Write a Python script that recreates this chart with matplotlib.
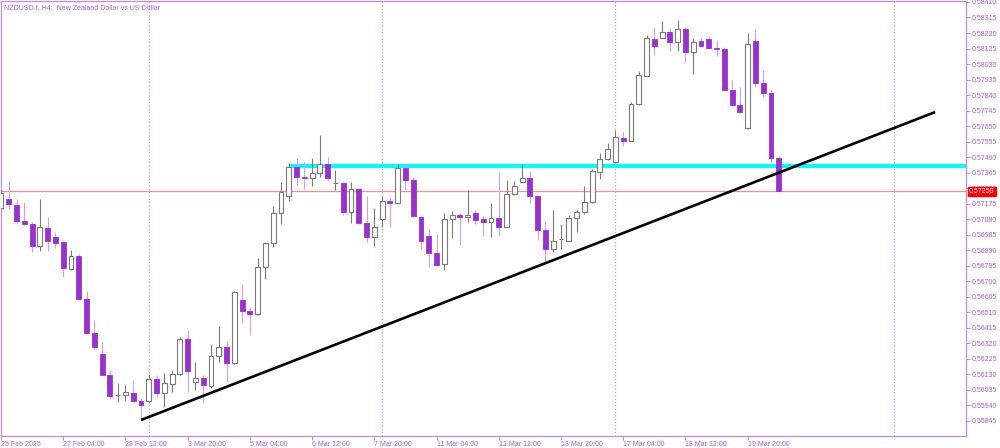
import numpy as np
import matplotlib
matplotlib.use("Agg")
import matplotlib.pyplot as plt
from matplotlib.transforms import blended_transform_factory

plt.rcParams["font.family"] = ["Liberation Sans", "DejaVu Sans"]

chart_title = "NZDUSD.f, H4:  New Zealand Dollar vs US Dollar"

# H4 candles, first bar = 25 Feb 2025 20:00
opens = [0.57149, 0.57202, 0.57169, 0.57069, 0.57051, 0.56916, 0.57028, 0.56970, 0.56939, 0.56777,
         0.56853, 0.56590, 0.56386, 0.56255, 0.56127, 0.56001, 0.56004, 0.56018, 0.55969, 0.55969,
         0.56100, 0.56018, 0.56072, 0.56133, 0.56345, 0.56082, 0.56110, 0.56061, 0.56243, 0.56300,
         0.56202, 0.56586, 0.56518, 0.56498, 0.56790, 0.56933, 0.57120, 0.57222, 0.57402, 0.57340,
         0.57331, 0.57365, 0.57418, 0.57300, 0.57300, 0.57123, 0.57263, 0.57059, 0.56970, 0.57080,
         0.57194, 0.57181, 0.57392, 0.57320, 0.57096, 0.56977, 0.56872, 0.56804, 0.57080, 0.57106,
         0.57092, 0.57120, 0.57080, 0.57061, 0.57088, 0.57034, 0.57235, 0.57310, 0.57334, 0.57222,
         0.57014, 0.56896, 0.56957, 0.56949, 0.57086, 0.57126, 0.57184, 0.57369, 0.57449, 0.57429,
         0.57580, 0.57561, 0.57784, 0.57957, 0.58183, 0.58191, 0.58224, 0.58167, 0.58243, 0.58106,
         0.58171, 0.58181, 0.58130, 0.58120, 0.57871, 0.57779, 0.57637, 0.58173, 0.57916, 0.57851,
         0.57453]
highs = [0.57259, 0.57316, 0.57206, 0.57184, 0.57063, 0.57204, 0.57096, 0.57004, 0.56949, 0.56892,
         0.56867, 0.56643, 0.56463, 0.56327, 0.56157, 0.56080, 0.56065, 0.56096, 0.55984, 0.56131,
         0.56125, 0.56137, 0.56157, 0.56357, 0.56402, 0.56204, 0.56127, 0.56315, 0.56427, 0.56335,
         0.56641, 0.56684, 0.56545, 0.56841, 0.56943, 0.57161, 0.57310, 0.57422, 0.57453, 0.57432,
         0.57453, 0.57596, 0.57459, 0.57381, 0.57310, 0.57310, 0.57265, 0.57222, 0.57147, 0.57222,
         0.57208, 0.57418, 0.57418, 0.57340, 0.57100, 0.57018, 0.56988, 0.57116, 0.57132, 0.57116,
         0.57259, 0.57137, 0.57100, 0.57180, 0.57369, 0.57320, 0.57316, 0.57416, 0.57377, 0.57225,
         0.57071, 0.57137, 0.57051, 0.57106, 0.57137, 0.57284, 0.57386, 0.57487, 0.57549, 0.57626,
         0.57614, 0.57800, 0.57989, 0.58208, 0.58259, 0.58293, 0.58249, 0.58300, 0.58259, 0.58188,
         0.58188, 0.58197, 0.58177, 0.58132, 0.57932, 0.57891, 0.58218, 0.58243, 0.57994, 0.57875,
         0.57467]
lows = [0.57143, 0.57141, 0.57059, 0.57043, 0.56878, 0.56888, 0.56886, 0.56902, 0.56725, 0.56770,
        0.56586, 0.56376, 0.56288, 0.56124, 0.55978, 0.55963, 0.55969, 0.55966, 0.55851, 0.55960,
        0.55994, 0.55933, 0.56024, 0.56127, 0.56021, 0.56035, 0.55953, 0.56045, 0.56204, 0.56086,
        0.56192, 0.56443, 0.56371, 0.56494, 0.56714, 0.56912, 0.57049, 0.57192, 0.57290, 0.57263,
        0.57284, 0.57340, 0.57320, 0.57259, 0.57106, 0.57055, 0.57050, 0.56943, 0.56916, 0.57034,
        0.57034, 0.57179, 0.57259, 0.57096, 0.56896, 0.56790, 0.56794, 0.56769, 0.56963, 0.56922,
        0.57065, 0.57049, 0.56977, 0.56970, 0.56979, 0.57030, 0.57228, 0.57305, 0.57180, 0.56953,
        0.56820, 0.56881, 0.56896, 0.56945, 0.57004, 0.57112, 0.57181, 0.57325, 0.57443, 0.57426,
        0.57528, 0.57558, 0.57780, 0.57955, 0.58085, 0.58188, 0.58112, 0.58112, 0.58044, 0.57969,
        0.58138, 0.58126, 0.58081, 0.57866, 0.57773, 0.57729, 0.57633, 0.57888, 0.57826, 0.57432,
        0.57247]
closes = [0.57241, 0.57172, 0.57069, 0.57051, 0.56916, 0.57031, 0.56949, 0.56936, 0.56780, 0.56853,
          0.56590, 0.56386, 0.56300, 0.56127, 0.56000, 0.56006, 0.56021, 0.55969, 0.55943, 0.56100,
          0.56018, 0.56076, 0.56133, 0.56347, 0.56153, 0.56108, 0.56065, 0.56243, 0.56300, 0.56202,
          0.56635, 0.56518, 0.56498, 0.56790, 0.56936, 0.57120, 0.57247, 0.57402, 0.57340, 0.57331,
          0.57365, 0.57418, 0.57331, 0.57302, 0.57123, 0.57263, 0.57059, 0.56970, 0.57034, 0.57194,
          0.57181, 0.57392, 0.57320, 0.57100, 0.56949, 0.56875, 0.56800, 0.57080, 0.57106, 0.57092,
          0.57104, 0.57075, 0.57063, 0.57086, 0.57034, 0.57235, 0.57284, 0.57334, 0.57224, 0.57014,
          0.56896, 0.56949, 0.56959, 0.57086, 0.57126, 0.57184, 0.57373, 0.57449, 0.57508, 0.57583,
          0.57561, 0.57784, 0.57963, 0.58191, 0.58140, 0.58224, 0.58167, 0.58243, 0.58106, 0.58167,
          0.58142, 0.58130, 0.58120, 0.57871, 0.57779, 0.57735, 0.58151, 0.57916, 0.57851, 0.57453,
          0.57250]

time_labels = ["25 Feb 2025", "27 Feb 04:00", "28 Feb 12:00", "3 Mar 20:00", "5 Mar 04:00",
               "6 Mar 12:00", "7 Mar 20:00", "11 Mar 04:00", "12 Mar 12:00", "13 Mar 20:00",
               "17 Mar 04:00", "18 Mar 12:00", "19 Mar 20:00"]
time_label_bars = [0, 8, 16, 24, 32, 40, 48, 56, 64, 72, 80, 88, 96]
week_separator_bars = [19, 49, 79, 114.8]

last_price = 0.57250
resistance_low, resistance_high = 0.57392, 0.57421
resistance_start_bar = 37
trend_bars = [18.0, 120.1]
trend_prices = [0.55851, 0.57736]
price_ticks = [round(0.55845 + 0.00095 * k, 5) for k in range(28)]

text_color = "#a860dc"
axis_color = "#c08ae6"
bull_edge = "#7a7a7a"
bear_body = "#9932cc"
bear_wick = "#cf9ef0"

fig = plt.figure(figsize=(10, 4.48), dpi=100)
ax = fig.add_axes([0.001, 12 / 448, 0.965, 435 / 448])
xmin, xmax = 0.04, 124.07
ax.set_xlim(xmin, xmax)
ax.set_ylim(0.55753, 0.58416)

o = np.array(opens)
h = np.array(highs)
l = np.array(lows)
c = np.array(closes)
x = np.arange(len(o))
up = c >= o

# week separators
for b in week_separator_bars:
    ax.axvline(b, color=axis_color, ls=(0, (1, 2)), lw=0.8, zorder=1)

ax.axhline(last_price, color="#ff8c8c", lw=0.9, zorder=1.5)
ax.fill_between([resistance_start_bar, xmax], resistance_low, resistance_high,
                color="#00ffff", lw=0, zorder=2)

ax.vlines(x[up], l[up], h[up], color=bull_edge, lw=0.8, zorder=3)
ax.vlines(x[~up], l[~up], h[~up], color=bear_wick, lw=0.8, zorder=3)
ax.bar(x[up], np.maximum(c - o, 0.000005)[up], bottom=o[up], width=0.62,
       color="white", edgecolor=bull_edge, linewidth=0.8, zorder=4)
ax.bar(x[~up], np.maximum(o - c, 0.000005)[~up], bottom=c[~up], width=0.62,
       color=bear_body, edgecolor=bear_body, linewidth=0.6, zorder=4)

ax.plot(trend_bars, trend_prices, color="black", lw=1.9, zorder=5, solid_capstyle="butt")

# axes styling
for s in ax.spines.values():
    s.set_color(axis_color)
    s.set_linewidth(0.9)
ax.yaxis.tick_right()
ax.set_yticks(price_ticks)
ax.set_yticklabels([f"{p:.5f}" for p in price_ticks])
ax.set_xticks(time_label_bars)
ax.set_xticklabels(time_labels, ha="left")
ax.tick_params(axis="both", colors=axis_color, labelcolor=text_color, labelsize=5,
               length=3, width=0.7, pad=1)
ax.tick_params(axis="x", pad=0.5)

ax.text(0.003, 0.993, chart_title, transform=ax.transAxes, va="top", ha="left",
        fontsize=5, color=text_color)

trans = blended_transform_factory(ax.transAxes, ax.transData)
ax.text(1.003, last_price, f"{last_price:.5f}", transform=trans, ha="left", va="center",
        fontsize=5, color="white", clip_on=False, zorder=10,
        bbox=dict(facecolor="#ff0000", edgecolor="#ff0000", pad=1.0))

fig.savefig("out.png", dpi=100)
plt.close(fig)
